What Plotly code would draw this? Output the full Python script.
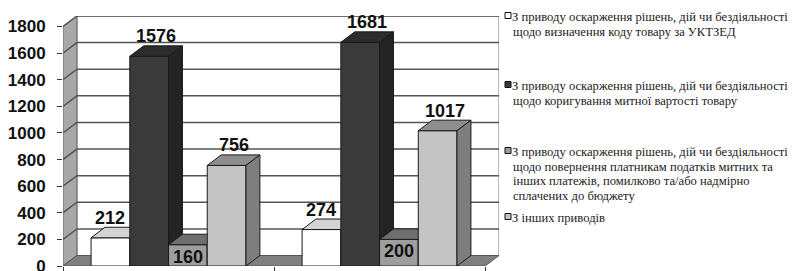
import plotly.graph_objects as go

# ---------------- data ----------------
categories = ["Період 1", "Період 2"]
series_names = [
    ["З приводу оскарження рішень, дій чи бездіяльності",
     "щодо визначення коду товару за УКТЗЕД"],
    ["З приводу оскарження рішень, дій чи бездіяльності",
     "щодо коригування митної вартості товару"],
    ["З приводу оскарження рішень, дій чи бездіяльності",
     "щодо повернення платникам податків митних та",
     "інших платежів, помилково та/або надмірно",
     "сплачених до бюджету"],
    ["З інших приводів"],
]
code_values = [212, 274]
valuation_values = [1576, 1681]
refund_values = [160, 200]
other_values = [756, 1017]
y_ticks = [0, 200, 400, 600, 800, 1000, 1200, 1400, 1600, 1800]

all_values = [code_values, valuation_values, refund_values, other_values]

# ---------------- style ----------------
front_colors = ["#ffffff", "#3a3a3a", "#9e9e9e", "#c4c4c4"]
top_colors = ["#d4d4d4", "#2c2c2c", "#6e6e6e", "#8e8e8e"]
side_colors = ["#b4b4b4", "#242424", "#7a7a7a", "#7e7e7e"]
label_yshift = [20, 20, -12, 20]
label_xshift = [-7, 0, -7, 0]

X0, X1 = -0.5, 1.5
DX, DY = 0.066, 79          # oblique depth in axis units
YMAX = 1800
BAR_W = 0.1835

# page offset of the plot div (browser body margin)
PAGE_OFF = 8
FIG_W, FIG_H = 802 - PAGE_OFF, 271 - PAGE_OFF

fig = go.Figure()


def poly(xs, ys, fill, line_color, lw, z):
    fig.add_trace(go.Scatter(
        x=list(xs) + [xs[0]], y=list(ys) + [ys[0]], mode="lines",
        fill="toself", fillcolor=fill,
        line=dict(color=line_color, width=lw),
        hoverinfo="skip", showlegend=False, zorder=z))


# walls and floor
poly([X0 + DX, X1 + DX, X1 + DX, X0 + DX], [DY, DY, YMAX + DY, YMAX + DY],
     "#ffffff", "#777777", 1, -3)
poly([X0, X0 + DX, X0 + DX, X0], [0, DY, YMAX + DY, YMAX],
     "#a8a8a8", "#666666", 1, -3)
poly([X0, X1, X1 + DX, X0 + DX], [0, 0, DY, DY], "#808080", "#555555", 1, -3)

# gridlines on the walls
gx, gy = [], []
for v in y_ticks[1:]:
    gx += [X0, X0 + DX, X1 + DX, None]
    gy += [v, v + DY, v + DY, None]
fig.add_trace(go.Scatter(x=gx, y=gy, mode="lines",
                         line=dict(color="#555555", width=1.5),
                         hoverinfo="skip", showlegend=False, zorder=-2))

# bars
xs = list(range(len(categories)))
n = len(all_values)
for k, vals in enumerate(all_values):
    off = -n / 2 * BAR_W + k * BAR_W
    fig.add_trace(go.Bar(
        x=xs, y=vals, width=BAR_W, offset=off, name=" ".join(series_names[k]),
        marker=dict(color=front_colors[k], line=dict(color="#1a1a1a", width=1)),
        showlegend=False, zorder=k + 1))
    for i, v in zip(xs, vals):
        xl = i + off
        xr = xl + BAR_W
        poly([xl, xr, xr + DX, xl + DX], [v, v, v + DY, v + DY],
             top_colors[k], "#1a1a1a", 1, k + 1)
        poly([xr, xr + DX, xr + DX, xr], [0, DY, v + DY, v],
             side_colors[k], "#1a1a1a", 1, k + 1)
        fig.add_annotation(
            x=xl + BAR_W / 2 + DX / 2, y=v, xref="x", yref="y",
            text=str(v), showarrow=False, yanchor="middle",
            yshift=label_yshift[k], xshift=label_xshift[k],
            font=dict(family="Liberation Sans", size=18,
                      color="#111111", weight="bold"))

# plot area in page pixels
L, PW, B, PH = 63, 436, 266, 250

# manual legend (paper coords computed from page pixels)
legend_first_line = [17, 86, 152, 218]
LINE_H = 14.6
for k in range(n):
    mx0, mx1 = 505, 511
    my = legend_first_line[k] - 1.5
    fig.add_shape(type="rect", xref="paper", yref="paper",
                  x0=(mx0 - L) / PW, x1=(mx1 - L) / PW,
                  y0=(B - my - 3) / PH, y1=(B - my + 3) / PH,
                  fillcolor=front_colors[k], line=dict(color="#111111", width=1))
    for j, line in enumerate(series_names[k]):
        xpx = 510 if j == 0 else 511
        ypx = legend_first_line[k] + j * LINE_H
        fig.add_annotation(
            x=(xpx - L) / PW, y=(B - ypx) / PH,
            xref="paper", yref="paper", xanchor="left", yanchor="middle",
            align="left", showarrow=False, text=line,
            font=dict(family="Liberation Serif, Times New Roman, serif",
                      size=12.6, color="#222222"))

fig.update_layout(
    width=FIG_W, height=FIG_H, autosize=False,
    margin=dict(l=L - PAGE_OFF, r=FIG_W - (L - PAGE_OFF + PW),
                t=(B - PH) - PAGE_OFF, b=FIG_H - (B - PAGE_OFF),
                autoexpand=False, pad=0),
    paper_bgcolor="white", plot_bgcolor="white",
    barmode="overlay", showlegend=False,
    xaxis=dict(range=[X0, X1 + DX], showgrid=False, zeroline=False,
               automargin=False,
               tickvals=[-0.5, 0.5, 1.5], ticks="outside", ticklen=5,
               tickcolor="#333333", showticklabels=False, fixedrange=True),
    yaxis=dict(range=[0, YMAX + DY], showgrid=False, zeroline=False,
               automargin=False, ticklabeloverflow="allow",
               tickvals=y_ticks, ticks="outside", ticklen=5,
               tickcolor="#333333", ticklabelstandoff=8,
               tickfont=dict(family="Liberation Sans", size=17,
                             color="#111111", weight="bold"),
               fixedrange=True),
)

fig.write_html("out.html")
